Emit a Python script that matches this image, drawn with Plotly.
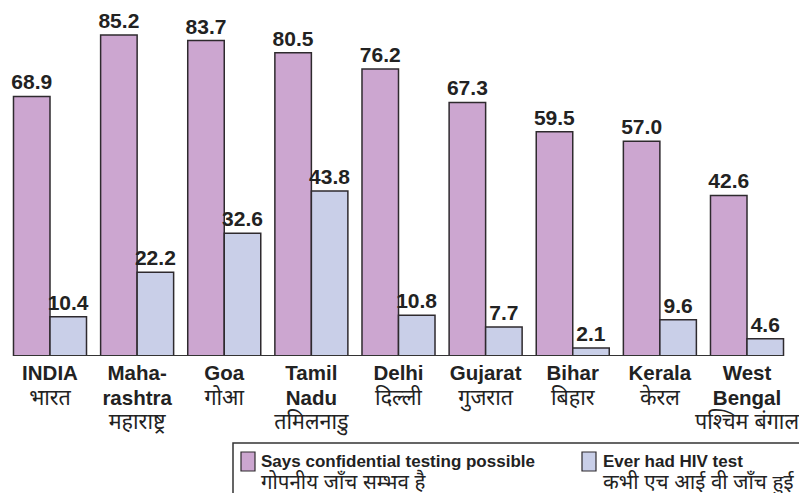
import plotly.graph_objects as go

# States / country and their bilingual labels
categories = ["INDIA", "Maharashtra", "Goa", "Tamil Nadu", "Delhi",
              "Gujarat", "Bihar", "Kerala", "West Bengal"]
label_en = ["INDIA", "Maha-<br>rashtra", "Goa", "Tamil<br>Nadu", "Delhi",
            "Gujarat", "Bihar", "Kerala", "West<br>Bengal"]
label_hi = ["भारत", "महाराष्ट्र", "गोआ", "तमिलनाडु", "दिल्ली",
            "गुजरात", "बिहार", "केरल", "पश्चिम बंगाल"]

# Percent values
confidential = [68.9, 85.2, 83.7, 80.5, 76.2, 67.3, 59.5, 57.0, 42.6]
ever_tested = [10.4, 22.2, 32.6, 43.8, 10.8, 7.7, 2.1, 9.6, 4.6]

series_names = ["Says confidential testing possible", "Ever had HIV test"]
series_names_hi = ["गोपनीय जाँच सम्भव है", "कभी एच आई वी जाँच हुई"]

PURPLE = "#cca6d0"
BLUE = "#c9cfe8"
EDGE = "#2e2a2e"
TXT = "#222222"
FONT = "Liberation Sans, Arial, Noto Sans, sans-serif"

W, H = 799, 493
PLOT_BOTTOM = 356  # pixel row of the bar baseline
BARGAP = 0.162

xs = list(range(len(categories)))


def en_span(s, size):
    return "<br>".join(
        f"<span style='font-size:{size}px'><b>{part}</b></span>" for part in s.split("<br>"))


def hi_span(s, size):
    return f"<span style='font-size:{size}px'>{s}</span>"


ticktext = [f"{en_span(e, 20.5)}<br>{hi_span(h, 21.5)}" for e, h in zip(label_en, label_hi)]

fig = go.Figure()
for vals, color, name in [(confidential, PURPLE, series_names[0]),
                          (ever_tested, BLUE, series_names[1])]:
    fig.add_trace(go.Bar(
        x=xs, y=vals, name=name,
        marker=dict(color=color, line=dict(color=EDGE, width=1.5)),
        texttemplate="<b>%{y:.1f}</b>", textposition="outside",
        textfont=dict(family=FONT, size=21, color=TXT),
        constraintext="none", cliponaxis=False,
        showlegend=False,
    ))


# pixel -> paper helpers for the hand-drawn legend
def px(x):
    return x / W


def py(y):
    return (PLOT_BOTTOM - y) / PLOT_BOTTOM


half = (1 - BARGAP) / 2
shapes = [
    # baseline under the bars
    dict(type="line", xref="x", yref="y", x0=-half, x1=len(xs) - 1 + half,
         y0=0, y1=0, line=dict(color="#333333", width=2)),
    # legend frame
    dict(type="rect", xref="paper", yref="paper", x0=px(233), x1=px(812),
         y0=py(443), y1=py(510), line=dict(color="#333333", width=1.5)),
    # legend swatches
    dict(type="rect", xref="paper", yref="paper", x0=px(241), x1=px(255),
         y0=py(452), y1=py(471), fillcolor=PURPLE, line=dict(color=EDGE, width=1.2)),
    dict(type="rect", xref="paper", yref="paper", x0=px(582), x1=px(596),
         y0=py(452), y1=py(471), fillcolor=BLUE, line=dict(color=EDGE, width=1.2)),
]

annotations = []
for xpix, en, hi in [(259, series_names[0], series_names_hi[0]),
                     (601, series_names[1], series_names_hi[1])]:
    annotations.append(dict(
        xref="paper", yref="paper", x=px(xpix), y=py(450),
        xanchor="left", yanchor="top", align="left", showarrow=False,
        text=f"<b>{en}</b><br>{hi_span(hi, 20.5)}",
        font=dict(family=FONT, size=17, color=TXT),
    ))

span = W / 87.125
x0 = -50 / 87.125
fig.update_layout(
    width=W, height=H,
    margin=dict(l=0, r=0, t=0, b=H - PLOT_BOTTOM, pad=0),
    paper_bgcolor="white", plot_bgcolor="white",
    barmode="group", bargap=BARGAP, bargroupgap=0,
    xaxis=dict(range=[x0, x0 + span], tickvals=xs, ticktext=ticktext,
               showgrid=False, zeroline=False, showline=False, ticks="",
               tickfont=dict(family=FONT, size=19, color=TXT),
               ticklabelstandoff=4, ticklabeloverflow="allow",
               fixedrange=True),
    yaxis=dict(range=[0, PLOT_BOTTOM / 3.768], visible=False, fixedrange=True),
    shapes=shapes, annotations=annotations,
)

fig.write_html("out.html")
